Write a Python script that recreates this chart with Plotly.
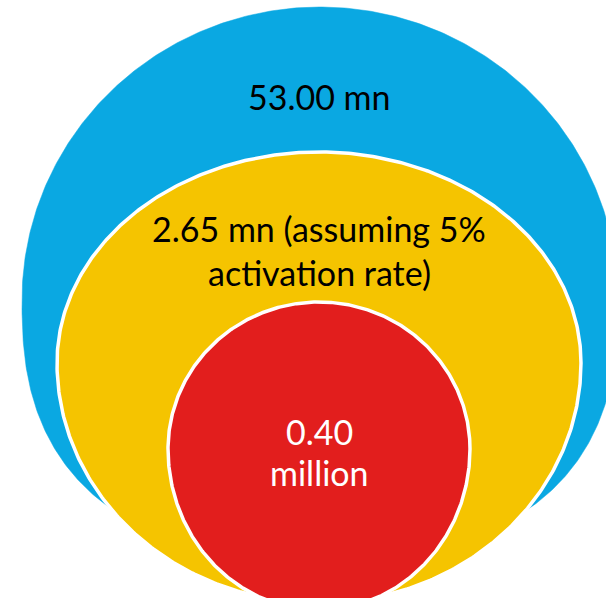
import numpy as np
import plotly.graph_objects as go

# Audience funnel, in millions
tiers = ["Addressable users", "Activated users", "Target users"]
values_mn = [53.00, 2.65, 0.40]
activation_rate_pct = 5

labels = [
    [f"{values_mn[0]:.2f} mn"],
    [f"{values_mn[1]:.2f} mn (assuming {activation_rate_pct}%", "activation rate)"],
    [f"{values_mn[2]:.2f}", "million"],
]

# Drawing style for each ring: fill, text colour, outline
fills = ["#0AA8E2", "#F5C400", "#E21E1D"]
text_colors = ["#000000", "#000000", "#FFFFFF"]
outline = [0, 3.5, 3.5]

# Shape geometry in pixel space: centre x, centre y, half width,
# upper half height, lower half height, lower half exponent
geometry = [
    (320, 300, 298, 293, 258, 2.5),
    (319, 363, 262, 211, 240, 2.0),
    (319, 449, 151, 147, 161, 2.0),
]
# Vertical centre of each label line (pixel y) and font size
label_rows = [[96], [228, 272], [431, 472]]
font_size = 34

W, H = 606, 598


def blob(cx, cy, rx, ry_top, ry_bot, n_bot, n=600):
    """Upper half is a plain ellipse, lower half a superellipse."""
    t = np.linspace(0, 2 * np.pi, n)
    c, s = np.cos(t), np.sin(t)
    x = np.empty_like(t)
    y = np.empty_like(t)
    top = s < 0
    x[top] = cx + rx * c[top]
    y[top] = cy + ry_top * s[top]
    e = 2.0 / n_bot
    bot = ~top
    x[bot] = cx + rx * np.sign(c[bot]) * np.abs(c[bot]) ** e
    y[bot] = cy + ry_bot * np.abs(s[bot]) ** e
    return x, y


fig = go.Figure()
for name, g, fc, lw in zip(tiers, geometry, fills, outline):
    x, y = blob(*g)
    fig.add_trace(go.Scatter(
        x=x, y=y, mode="lines", fill="toself", fillcolor=fc,
        line=dict(color="white" if lw else fc, width=lw if lw else 0.5),
        name=name, hoverinfo="name", showlegend=False,
    ))

for lines, rows, tc in zip(labels, label_rows, text_colors):
    for txt, yy in zip(lines, rows):
        fig.add_annotation(
            x=319, y=yy, xref="x", yref="y", text=txt, showarrow=False,
            font=dict(family="Lato", size=font_size, color=tc),
            xanchor="center", yanchor="middle",
        )

fig.update_xaxes(range=[0, W], visible=False, fixedrange=True)
fig.update_yaxes(range=[H, 0], visible=False, fixedrange=True)
fig.update_layout(
    width=W, height=H, margin=dict(l=0, r=0, t=0, b=0),
    paper_bgcolor="white", plot_bgcolor="white",
)
fig.write_html("out.html")
